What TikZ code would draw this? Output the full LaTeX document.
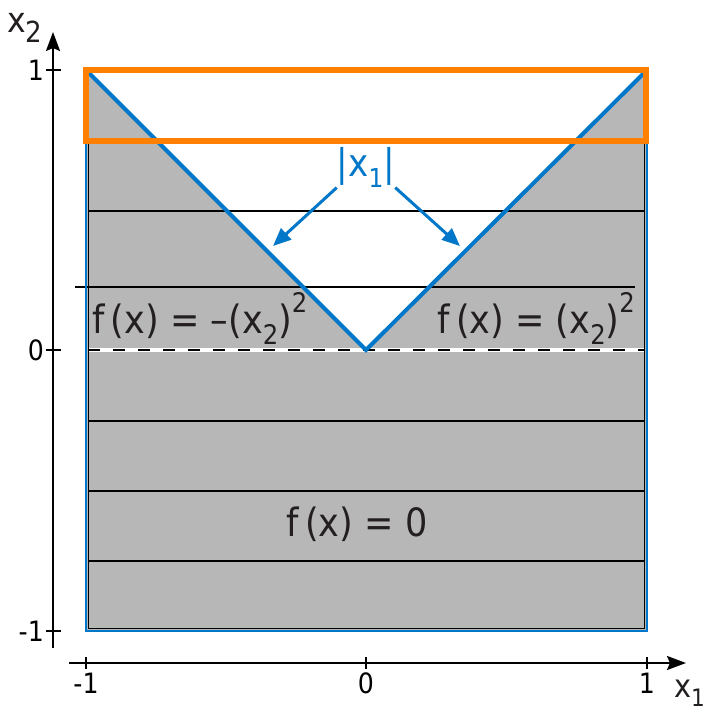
\documentclass[tikz,border=0pt]{standalone}
\usepackage{fontspec}
\setmainfont{DejaVu Sans Condensed}
\usetikzlibrary{arrows.meta}
\definecolor{gry}{RGB}{183,183,183}
\definecolor{vblue}{RGB}{0,119,200}
\definecolor{org}{RGB}{255,128,0}
\definecolor{txt}{RGB}{35,31,32}
\newcommand\lowsub[2]{\raisebox{-0.3em}{\fontsize{#1}{#1}\selectfont #2}}
\newcommand\highsup[2]{\raisebox{0.52em}{\fontsize{#1}{#1}\selectfont #2}}
\begin{document}
\begin{tikzpicture}[x=1pt,y=-1pt,
  hl/.style={line width=1.5pt, black},
  ax/.style={line width=2.2pt, black},
  axarrow/.style={ax, -{Stealth[length=19pt,width=14pt,inset=3pt]}},
  tick/.style={line width=2pt, black},
  ticklbl/.style={inner sep=0pt, font=\fontsize{28}{28}\selectfont, text=black},
  biglbl/.style={inner sep=0pt, font=\fontsize{39}{39}\selectfont, text=txt},
  bluearrow/.style={vblue, line width=3pt, -{Triangle[length=18pt,width=15pt]}}]
\useasboundingbox (0,0) rectangle (711,713);
% shaded region
\fill[gry] (86,70) rectangle (647,631);
\fill[white] (86,70) -- (366,350) -- (647,70) -- cycle;
% level lines
\foreach \yy in {211,421,491,561} \draw[hl] (88,\yy) -- (645,\yy);
\draw[hl] (75,287) -- (635,287);
\draw[white, line width=3.5pt] (88,350) -- (645,350);
\draw[hl, dash pattern=on 12pt off 13pt] (88,350) -- (645,350);
% border
\draw[vblue, line width=2.5pt] (86,70) rectangle (647,631);
\draw[black, line width=1pt] (88.5,72.5) rectangle (644.5,628.5);
% V = |x1|
\draw[vblue, line width=4pt, line join=miter] (86,70) -- (366,350) -- (647,70);
% orange box
\draw[org, line width=6pt] (86,70) rectangle (646,141);
% axes
\coordinate (ya0) at (53,648);
\coordinate (ya1) at (53,32);
\coordinate (xa0) at (69,663);
\coordinate (xa1) at (686,663);
\draw[axarrow] (ya0) -- (ya1);
\draw[axarrow] (xa0) -- (xa1);
\foreach \yy/\nm in {70/1,350/0,631/-1} {
  \draw[tick] (46,\yy) -- (61,\yy);
  \node[ticklbl, anchor=east] (yl\nm) at (44,\yy) {\nm};
}
\foreach \xx/\nm in {86/-1,366/0,647/1} {
  \draw[tick] (\xx,657) -- (\xx,669);
  \node[ticklbl] (xl\nm) at (\xx,683) {\nm};
}
\node[inner sep=0pt, font=\fontsize{35}{35}\selectfont, text=txt, anchor=base west] (x2lbl) at (7,32) {x\lowsub{29}{2}};
\node[inner sep=0pt, font=\fontsize{32}{32}\selectfont, text=txt, anchor=base west] (x1lbl) at (674,697) {x\lowsub{24}{1}};
% function labels
\node[biglbl, anchor=base west] (fneg) at (92,333) {f\,(x) = –(x\lowsub{27}{2})\highsup{27}{2}};
\node[biglbl, anchor=base west] (fpos) at (437,333) {f\,(x) = (x\lowsub{27}{2})\highsup{27}{2}};
\node[biglbl, anchor=base] (fzero) at (357,536) {f\,(x) = 0};
% |x1| label
\node[inner sep=0pt, font=\fontsize{38}{38}\selectfont, text=vblue, anchor=base] (abs) at (366,176) {|x\lowsub{26}{1}|};
\coordinate (la) at (273,246);
\coordinate (ra) at (460,246);
\draw[bluearrow] (abs.south west) -- (la);
\draw[bluearrow] (abs.south east) -- (ra);
\end{tikzpicture}
\end{document}
